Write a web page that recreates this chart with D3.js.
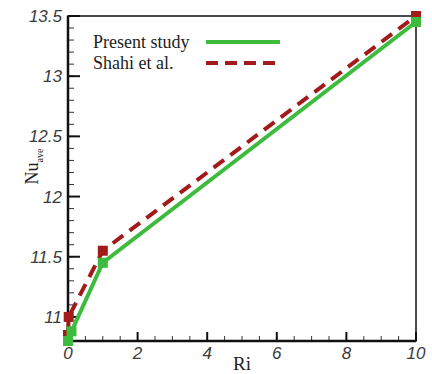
<!DOCTYPE html>
<html>
<head>
<meta charset="utf-8">
<script src="https://cdn.jsdelivr.net/npm/d3@7"></script>
<style>
  body { margin: 0; background: #fff; }
  .tick-label { font-family: "Liberation Sans", Arial, sans-serif; font-style: italic; font-size: 17px; fill: #3a3a3a; }
  .serif { font-family: "Liberation Serif", "Times New Roman", serif; fill: #222; }
</style>
</head>
<body>
<script>
const riPresent = [0, 0.1, 1, 10];
const nuPresent = [10.8, 10.88, 11.45, 13.45];
const riShahi = [0, 0.02, 1, 10];
const nuShahi = [10.85, 11.0, 11.55, 13.5];
const xTicks = [0, 2, 4, 6, 8, 10];
const yTicks = [11, 11.5, 12, 12.5, 13, 13.5];
const seriesNames = ["Present study", "Shahi et al."];

const W = 432, H = 374;
const margin = { top: 16, right: 16, bottom: 33, left: 68 };

const svg = d3.select("body").append("svg")
  .attr("width", W)
  .attr("height", H);

const x = d3.scaleLinear().domain([0, 10]).range([margin.left, W - margin.right]);
const y = d3.scaleLinear().domain([10.8, 13.5]).range([H - margin.bottom, margin.top]);

const green = "#3dbb3d", red = "#a31a1a";

// frame
svg.append("rect")
  .attr("x", x(0)).attr("y", y(13.5))
  .attr("width", x(10) - x(0)).attr("height", y(10.8) - y(13.5))
  .attr("fill", "none").attr("stroke", "#111").attr("stroke-width", 1.5);

// y ticks (inward)
const yMinor = d3.range(108, 136).map(d => d / 10);
svg.append("g").selectAll("line").data(yMinor).enter().append("line")
  .attr("x1", x(0)).attr("x2", x(0) + 6)
  .attr("y1", d => y(d)).attr("y2", d => y(d))
  .attr("stroke", "#333").attr("stroke-width", 1);
svg.append("g").selectAll("line").data(yTicks).enter().append("line")
  .attr("x1", x(0)).attr("x2", x(0) + 12)
  .attr("y1", d => y(d)).attr("y2", d => y(d))
  .attr("stroke", "#111").attr("stroke-width", 2);
svg.append("g").selectAll("text").data(yTicks).enter().append("text")
  .attr("class", "tick-label")
  .attr("x", x(0) - 6).attr("y", d => y(d) + 6)
  .attr("text-anchor", "end")
  .text(d => d);

// x ticks (inward)
const xMinor = d3.range(0, 21).map(d => d / 2);
svg.append("g").selectAll("line").data(xMinor).enter().append("line")
  .attr("x1", d => x(d)).attr("x2", d => x(d))
  .attr("y1", y(10.8)).attr("y2", y(10.8) - 5)
  .attr("stroke", "#333").attr("stroke-width", 1);
svg.append("g").selectAll("line").data(xTicks).enter().append("line")
  .attr("x1", d => x(d)).attr("x2", d => x(d))
  .attr("y1", y(10.8)).attr("y2", y(10.8) - 9)
  .attr("stroke", "#111").attr("stroke-width", 2);
svg.append("g").selectAll("text").data(xTicks).enter().append("text")
  .attr("class", "tick-label")
  .attr("x", d => x(d)).attr("y", y(10.8) + 18)
  .attr("text-anchor", "middle")
  .text(d => d);

// thicker left / bottom axis lines
svg.append("line").attr("x1", x(0)).attr("x2", x(0)).attr("y1", y(13.5)).attr("y2", y(10.8))
  .attr("stroke", "#111").attr("stroke-width", 2.5);
svg.append("line").attr("x1", x(0)).attr("x2", x(10)).attr("y1", y(10.8)).attr("y2", y(10.8))
  .attr("stroke", "#111").attr("stroke-width", 2.5);

// axis titles
svg.append("text").attr("class", "serif")
  .attr("x", (x(0) + x(10)) / 2).attr("y", 370)
  .attr("text-anchor", "middle")
  .style("font-size", "19px")
  .text("Ri");

const yt = svg.append("text").attr("class", "serif")
  .attr("transform", "translate(38," + y(12.25) + ") rotate(-90)")
  .attr("text-anchor", "middle")
  .style("font-size", "18px");
yt.append("tspan").text("Nu");
yt.append("tspan").attr("dy", 5).style("font-size", "10px").text("ave");

// series
const line = d3.line().x(d => x(d[0])).y(d => y(d[1]));
const shahi = riShahi.map((r, i) => [r, nuShahi[i]]);
const present = riPresent.map((r, i) => [r, nuPresent[i]]);

svg.append("path").datum(shahi).attr("d", line)
  .attr("fill", "none").attr("stroke", red).attr("stroke-width", 4)
  .attr("stroke-dasharray", "13,8");
svg.selectAll(".sq-red").data(shahi).enter().append("rect")
  .attr("class", "sq-red")
  .attr("x", d => x(d[0]) - 5).attr("y", d => y(d[1]) - 5)
  .attr("width", 10).attr("height", 10).attr("fill", red);

svg.append("path").datum(present).attr("d", line)
  .attr("fill", "none").attr("stroke", green).attr("stroke-width", 4);
svg.selectAll(".sq-green").data(present).enter().append("rect")
  .attr("class", "sq-green")
  .attr("x", d => x(d[0]) - 5).attr("y", d => y(d[1]) - 5)
  .attr("width", 10).attr("height", 10).attr("fill", green);

// legend
const legend = svg.selectAll(".legend").data(seriesNames).enter().append("g")
  .attr("class", "legend")
  .attr("transform", (d, i) => "translate(93," + (48 + i * 21) + ")");
legend.append("text").attr("class", "serif")
  .style("font-size", "18px")
  .text(d => d);
legend.append("line")
  .attr("x1", 113).attr("x2", 187).attr("y1", -6).attr("y2", -6)
  .attr("stroke", (d, i) => i === 0 ? green : red)
  .attr("stroke-width", 4)
  .attr("stroke-dasharray", (d, i) => i === 0 ? null : "12,7");
</script>
</body>
</html>
